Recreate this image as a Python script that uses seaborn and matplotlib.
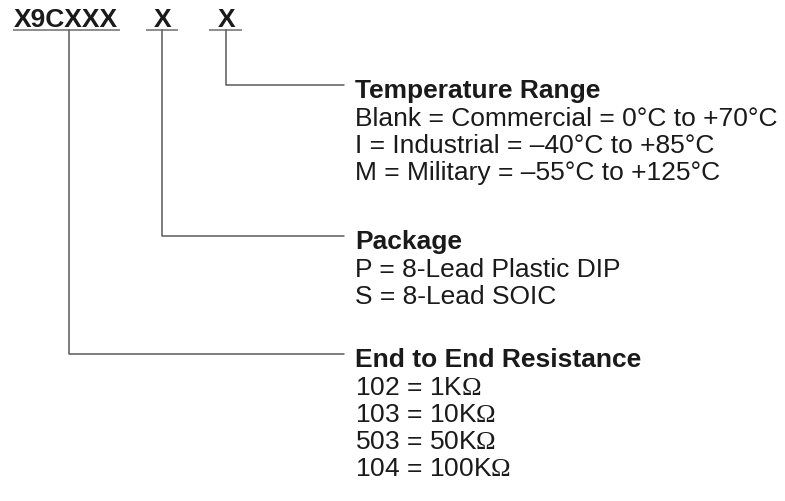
import pandas as pd
import matplotlib
matplotlib.use("Agg")
import matplotlib.pyplot as plt
import seaborn as sns

# part number code and the three option fields it breaks into
part_code = ["X9CXXX", "X", "X"]
field_titles = ["End to End Resistance", "Package", "Temperature Range"]
resistance_options = ["102 = 1K$\\mathrm{\\Omega}$", "103 = 10K$\\mathrm{\\Omega}$",
                      "503 = 50K$\\mathrm{\\Omega}$", "104 = 100K$\\mathrm{\\Omega}$"]
package_options = ["P = 8-Lead Plastic DIP", "S = 8-Lead SOIC"]
temperature_options = ["Blank = Commercial = 0°C to +70°C",
                       "I = Industrial = –40°C to +85°C",
                       "M = Military = –55°C to +125°C"]
field_options = [resistance_options, package_options, temperature_options]

# layout (pixels, origin top-left)
W, H = 785, 502
code_left = [14, 154, 218]
underline_span = [(13, 120), (146, 178), (209, 242)]
underline_y = 31
drop_x = [69, 162, 226]
branch_y = [355, 237, 86]
branch_end = 344
text_x = 355
title_drop = 12
first_gap = 28
line_gap = 27

sns.set_theme(style="white")
plt.rcParams["font.family"] = ["Liberation Sans", "DejaVu Sans"]
plt.rcParams["mathtext.fontset"] = "custom"
plt.rcParams["mathtext.rm"] = "Liberation Serif"
plt.rcParams["mathtext.it"] = "Liberation Serif:italic"

fig = plt.figure(figsize=(W / 100, H / 100), dpi=100)
ax = fig.add_axes([0, 0, 1, 1])

fs = 19
ink = "#1a1a1a"

# code letters and their underlines
for label, x0, (u0, u1) in zip(part_code, code_left, underline_span):
    ax.text(x0, 27, label, fontsize=fs, fontweight="bold", color=ink,
            ha="left", va="baseline")
    ax.plot([u0, u1], [underline_y, underline_y], color="#7a7a7a", lw=1.2,
            solid_capstyle="butt")

# connector lines from each code letter to its field title
paths = []
for i, (dx, by) in enumerate(zip(drop_x, branch_y)):
    paths += [(i, dx, underline_y), (i, dx, by), (i, branch_end, by)]
conn = pd.DataFrame(paths, columns=["field", "x", "y"])
sns.lineplot(data=conn, x="x", y="y", units="field", estimator=None, sort=False,
             color="#5a5a5a", lw=1.1, ax=ax, legend=False)

# field titles and option lists
for title, opts, by in zip(field_titles, field_options, branch_y):
    y = by + title_drop
    ax.text(text_x, y, title, fontsize=fs, fontweight="bold", color=ink,
            ha="left", va="baseline")
    y += first_gap
    for opt in opts:
        ax.text(text_x, y, opt, fontsize=fs, color=ink,
                ha="left", va="baseline")
        y += line_gap

ax.set_xlim(0, W)
ax.set_ylim(H, 0)
ax.set_axis_off()

fig.savefig("out.png", dpi=100, facecolor="white")
